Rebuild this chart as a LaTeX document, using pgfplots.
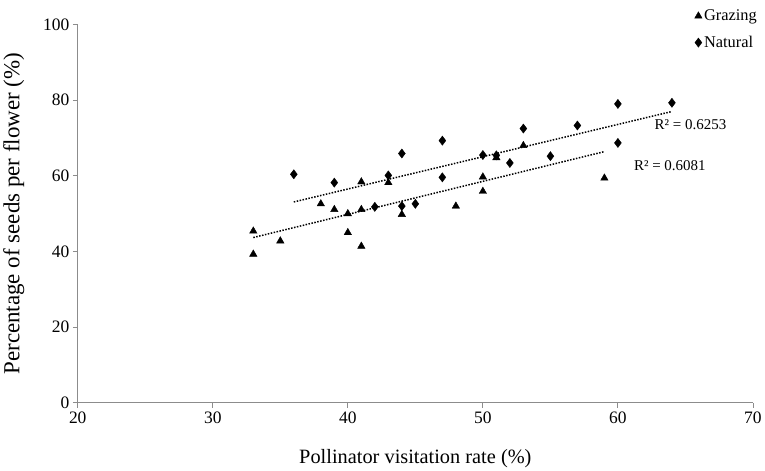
\documentclass[border=0pt]{standalone}
\usepackage{fontspec}
\setmainfont{Liberation Serif}
\usepackage{pgfplots}
\pgfplotsset{compat=1.18}
\definecolor{axgray}{RGB}{140,140,140}
\begin{document}
\begin{tikzpicture}
\begin{axis}[
  scale only axis, width=677pt, height=379.5pt,
  xmin=20, xmax=70, ymin=0, ymax=100,
  xtick={20,30,40,50,60,70}, ytick={0,20,40,60,80,100},
  axis lines=left, axis line style={axgray, line width=0.9pt, -},
  tick align=outside, major tick length=5pt,
  tick style={axgray, line width=0.9pt},
  /pgf/number format/assume math mode=true,
  xticklabel={\pgfmathparse{int(round(\tick))}\pgfmathresult},
  yticklabel={\pgfmathparse{int(round(\tick))}\pgfmathresult},
  ticklabel style={font=\fontsize{17.5}{20}\selectfont, black},
  xlabel={Pollinator visitation rate (\%)},
  ylabel={Percentage of seeds per flower (\%)},
  xlabel style={font=\fontsize{20.4}{24}\selectfont, at={(axis description cs:0.5,-0.1589)}, anchor=base},
  ylabel style={font=\fontsize{23}{26}\selectfont, at={(axis description cs:-0.0863,0.5)}, anchor=base},
  legend style={draw=none, fill=none, at={(axis description cs:0.909,1.0495)}, anchor=north west,
    font=\fontsize{16.4}{19}\selectfont, row sep=10pt},
  legend cell align=left,
  legend image code/.code={\draw[#1] plot coordinates {(0pt,0pt)};},
  clip=false,
]
\coordinate (bl) at (rel axis cs:0,0);
\coordinate (tr) at (rel axis cs:1,1);
% Grazing
\addplot[only marks, mark=triangle*, mark size=4.3pt, black, mark options={fill=black}] coordinates {
(33,45.4) (33,39.3) (35,42.8) (38,52.6) (39,51.1) (40,50.0) (40,45.0)
(41,58.4) (41,51.1) (41,41.4) (43,58.2) (44,49.8) (48,52.0) (50,59.7)
(50,55.9) (51,64.8) (53,68.0) (59,59.4)
};
\addlegendentry{Grazing}
% Natural
\addplot[only marks, mark=diamond*, mark size=4.6pt, black, mark options={fill=black}] coordinates {
(36,60.4) (39,58.2) (42,51.8) (43,60.1) (44,65.9) (44,52.0) (45,52.6)
(47,69.3) (47,59.6) (50,65.5) (51,65.4) (52,63.4) (53,72.5) (55,65.2)
(57,73.3) (60,79.0) (60,68.7) (64,79.3)
};
\addlegendentry{Natural}
% trend lines
\addplot[forget plot, black, line width=1.5pt, dash pattern=on 1.5pt off 1.5pt] coordinates {(36,53.1) (64,77.0)};
\addplot[forget plot, black, line width=1.5pt, dash pattern=on 1.5pt off 1.5pt] coordinates {(33,43.7) (59,66.4)};
\node[anchor=west, inner sep=0pt, font=\fontsize{15}{18}\selectfont] at (axis cs:62.71,73.5) {R² = 0.6253};
\node[anchor=west, inner sep=0pt, font=\fontsize{15}{18}\selectfont] at (axis cs:61.18,62.7) {R² = 0.6081};
\end{axis}
\path ([shift={(-76.7pt,-66pt)}]bl) rectangle ([shift={(11.3pt,24.5pt)}]tr);
\end{tikzpicture}
\end{document}
